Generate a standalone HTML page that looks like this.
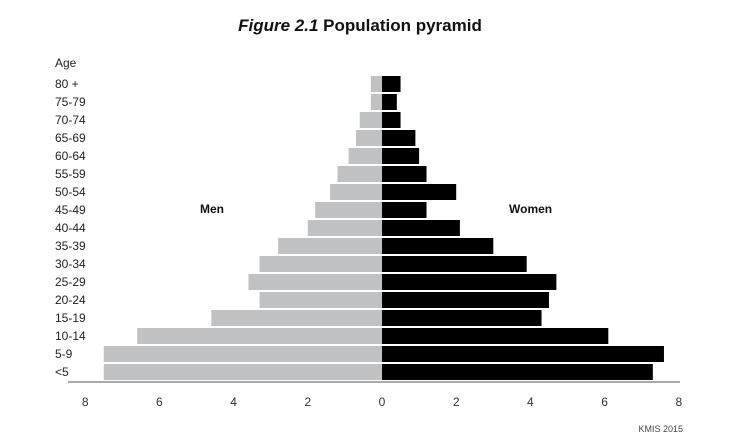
<!DOCTYPE html>
<html><head><meta charset="utf-8"><style>
body{margin:0;background:#fff;font-family:"Liberation Sans",sans-serif;}
#wrap{position:relative;width:745px;height:440px;overflow:hidden;}
</style></head><body>
<div id="wrap">
<svg id="chart" width="745" height="440">
<text x="360" y="31" text-anchor="middle" font-size="17" font-weight="bold" fill="#111"><tspan font-style="italic">Figure 2.1</tspan>  Population pyramid</text>
<text x="55" y="67" font-size="12" fill="#222">Age</text>
<text x="200" y="213" font-size="12" font-weight="bold" fill="#111">Men</text>
<text x="509" y="213" font-size="12" font-weight="bold" fill="#111">Women</text>
<text x="683" y="432" text-anchor="end" font-size="9" fill="#444">KMIS 2015</text>
<line x1="68" y1="382" x2="680" y2="382" stroke="#aaa" stroke-width="2"/>
<g id="bars"></g>
</svg>
</div>
<script>
const ageGroups = ["80 +","75-79","70-74","65-69","60-64","55-59","50-54","45-49","40-44","35-39","30-34","25-29","20-24","15-19","10-14","5-9","<5"];
const menValues = [0.3,0.3,0.6,0.7,0.9,1.2,1.4,1.8,2.0,2.8,3.3,3.6,3.3,4.6,6.6,7.5,7.5];
const womenValues = [0.5,0.4,0.5,0.9,1.0,1.2,2.0,1.2,2.1,3.0,3.9,4.7,4.5,4.3,6.1,7.6,7.3];
const tickValues = [-8,-6,-4,-2,0,2,4,6,8];
const tickLabels = ["8","6","4","2","0","2","4","6","8"];

const NS = "http://www.w3.org/2000/svg";
const barsG = document.getElementById("bars");
const x0 = 382, unit = 37.1, topY = 75, rowH = 18;
function xScale(v){ return x0 + v*unit; }
function yScale(i){ return topY + i*rowH; }
function mk(tag, attrs){ const e=document.createElementNS(NS,tag); for(const k in attrs) e.setAttribute(k,attrs[k]); barsG.appendChild(e); return e; }

ageGroups.forEach((a,i)=>{
  const y = yScale(i);
  const m = mk("rect",{x:xScale(-menValues[i]),y:y+1,width:xScale(0)-xScale(-menValues[i]),height:rowH-2,fill:"#c0c1c3"});
  
  
  const w = mk("rect",{x:xScale(0),y:y+1,width:xScale(womenValues[i])-xScale(0),height:rowH-2,fill:"#000"});
  
  
  const t = mk("text",{x:55,y:y+rowH/2+4,"font-size":12,fill:"#222"});
  t.textContent = a;
  
  
});
tickValues.forEach((v,i)=>{
  const t = mk("text",{x:xScale(v),y:406,"font-size":12,fill:"#333","text-anchor":"middle"});
  t.textContent = tickLabels[i];
  
  
});
</script>
</body></html>
